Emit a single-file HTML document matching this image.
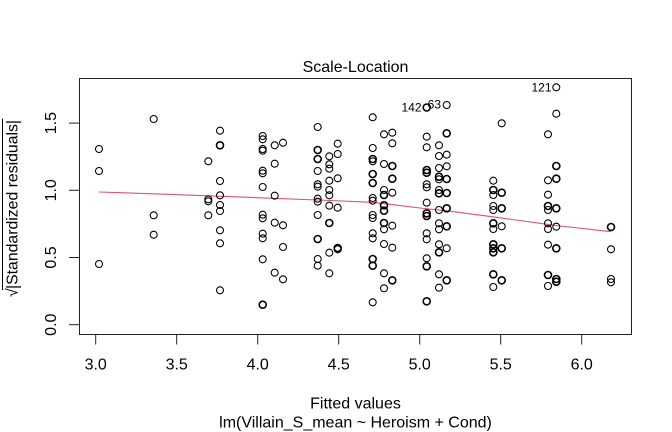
<!DOCTYPE html>
<html>
<head>
<meta charset="utf-8">
<style>
  html, body { margin: 0; padding: 0; background: #ffffff; }
  svg { display: block; }
  text { font-family: "Liberation Sans", Arial, sans-serif; fill: #000; }
  .pt { fill: none; stroke: #000; stroke-width: 1.05; }
  .b { stroke-width: 1.6; }
</style>
</head>
<body>
<svg width="672" height="432" viewBox="0 0 672 432" xmlns="http://www.w3.org/2000/svg">
  <rect x="0" y="0" width="672" height="432" fill="#ffffff"/>

  <!-- Title -->
  <text x="355.5" y="72" font-size="16" text-anchor="middle">Scale-Location</text>

  <!-- Plot box -->
  <rect x="79.5" y="78.5" width="552" height="256" fill="none" stroke="#222" stroke-width="1"/>

  <!-- X axis ticks -->
  <g stroke="#222" stroke-width="1">
    <line x1="95.7" y1="334.5" x2="95.7" y2="344.5"/>
    <line x1="176.7" y1="334.5" x2="176.7" y2="344.5"/>
    <line x1="257.7" y1="334.5" x2="257.7" y2="344.5"/>
    <line x1="338.7" y1="334.5" x2="338.7" y2="344.5"/>
    <line x1="419.7" y1="334.5" x2="419.7" y2="344.5"/>
    <line x1="500.7" y1="334.5" x2="500.7" y2="344.5"/>
    <line x1="581.7" y1="334.5" x2="581.7" y2="344.5"/>
  </g>
  <g font-size="16" text-anchor="middle">
    <text x="95.7" y="369.3">3.0</text>
    <text x="176.7" y="369.3">3.5</text>
    <text x="257.7" y="369.3">4.0</text>
    <text x="338.7" y="369.3">4.5</text>
    <text x="419.7" y="369.3">5.0</text>
    <text x="500.7" y="369.3">5.5</text>
    <text x="581.7" y="369.3">6.0</text>
  </g>

  <!-- Y axis ticks -->
  <g stroke="#222" stroke-width="1">
    <line x1="69" y1="324.7" x2="79.5" y2="324.7"/>
    <line x1="69" y1="257.5" x2="79.5" y2="257.5"/>
    <line x1="69" y1="190.3" x2="79.5" y2="190.3"/>
    <line x1="69" y1="123.1" x2="79.5" y2="123.1"/>
  </g>
  <g font-size="16" text-anchor="middle">
    <text transform="translate(56,324.7) rotate(-90)">0.0</text>
    <text transform="translate(56,257.5) rotate(-90)">0.5</text>
    <text transform="translate(56,190.3) rotate(-90)">1.0</text>
    <text transform="translate(56,123.1) rotate(-90)">1.5</text>
  </g>

  <!-- Axis labels -->
  <text x="355.5" y="408.3" font-size="16" text-anchor="middle">Fitted values</text>
  <text x="355.5" y="427.5" font-size="16" text-anchor="middle">lm(Villain_S_mean ~ Heroism + Cond)</text>

  <!-- Y label: sqrt(|Standardized residuals|) -->
  <text transform="translate(17.3,297) rotate(-90)" font-size="16">√</text>
  <text transform="translate(17.3,289) rotate(-90)" font-size="16" textLength="169" lengthAdjust="spacingAndGlyphs">|Standardized residuals|</text>
  <line x1="2.5" y1="118.5" x2="2.5" y2="290" stroke="#000" stroke-width="1"/>

  <!-- Smoother -->
  <polyline fill="none" stroke="#DF536B" stroke-width="1.1"
    points="99,192 153.7,193.8 208,195.8 260,197.8 317.7,200 372.7,202.3 392,204.6 420,208 446.7,210.8 493,216.8 548,224.4 556,225.5 611,231.7"/>

  <!-- Points -->
  <g>
    <!-- Col A x=99 -->
    <circle class="pt" cx="99" cy="149" r="3.5"/>
    <circle class="pt" cx="99" cy="171" r="3.5"/>
    <circle class="pt" cx="99" cy="264" r="3.5"/>
    <!-- Col B x=153.7 -->
    <circle class="pt" cx="153.7" cy="119" r="3.5"/>
    <circle class="pt" cx="153.7" cy="215.3" r="3.5"/>
    <circle class="pt" cx="153.7" cy="234.7" r="3.5"/>
    <!-- Col C x=208.3 -->
    <circle class="pt" cx="208.3" cy="161.3" r="3.5"/>
    <circle class="pt" cx="208.3" cy="199.3" r="3.5"/>
    <circle class="pt" cx="208.3" cy="201.3" r="3.5"/>
    <circle class="pt" cx="208.3" cy="215.3" r="3.5"/>
    <!-- Col D x=220 -->
    <circle class="pt" cx="220" cy="130.7" r="3.5"/>
    <circle class="pt b" cx="220" cy="145.3" r="3.5"/>
    <circle class="pt" cx="220" cy="181" r="3.5"/>
    <circle class="pt" cx="220" cy="195.3" r="3.5"/>
    <circle class="pt" cx="220" cy="205" r="3.5"/>
    <circle class="pt" cx="220" cy="211" r="3.5"/>
    <circle class="pt" cx="220" cy="230.3" r="3.5"/>
    <circle class="pt" cx="220" cy="243.3" r="3.5"/>
    <circle class="pt" cx="220" cy="290.3" r="3.5"/>
    <!-- Col E x=262.7 -->
    <circle class="pt" cx="262.7" cy="136" r="3.5"/>
    <circle class="pt" cx="262.7" cy="139.3" r="3.5"/>
    <circle class="pt" cx="262.7" cy="149" r="3.5"/>
    <circle class="pt" cx="262.7" cy="150.7" r="3.5"/>
    <circle class="pt" cx="262.7" cy="170.7" r="3.5"/>
    <circle class="pt" cx="262.7" cy="173.3" r="3.5"/>
    <circle class="pt" cx="262.7" cy="187" r="3.5"/>
    <circle class="pt" cx="262.7" cy="214.7" r="3.5"/>
    <circle class="pt" cx="262.7" cy="218.3" r="3.5"/>
    <circle class="pt" cx="262.7" cy="233.7" r="3.5"/>
    <circle class="pt" cx="262.7" cy="238.3" r="3.5"/>
    <circle class="pt" cx="262.7" cy="259.3" r="3.5"/>
    <circle class="pt b" cx="262.7" cy="304.7" r="3.5"/>
    <!-- Col F x=274.7 -->
    <circle class="pt" cx="274.7" cy="145.3" r="3.5"/>
    <circle class="pt" cx="274.7" cy="163.7" r="3.5"/>
    <circle class="pt" cx="274.7" cy="195.7" r="3.5"/>
    <circle class="pt" cx="274.7" cy="222.7" r="3.5"/>
    <circle class="pt" cx="274.7" cy="272.7" r="3.5"/>
    <!-- Col G x=283 -->
    <circle class="pt" cx="283" cy="142.7" r="3.5"/>
    <circle class="pt" cx="283" cy="225.3" r="3.5"/>
    <circle class="pt" cx="283" cy="247" r="3.5"/>
    <circle class="pt" cx="283" cy="279.3" r="3.5"/>
    <!-- Col H x=317.7 -->
    <circle class="pt" cx="317.7" cy="127" r="3.5"/>
    <circle class="pt b" cx="317.7" cy="150" r="3.5"/>
    <circle class="pt b" cx="317.7" cy="159" r="3.5"/>
    <circle class="pt" cx="317.7" cy="171" r="3.5"/>
    <circle class="pt" cx="317.7" cy="184.3" r="3.5"/>
    <circle class="pt" cx="317.7" cy="186.7" r="3.5"/>
    <circle class="pt" cx="317.7" cy="198.7" r="3.5"/>
    <circle class="pt" cx="317.7" cy="201.7" r="3.5"/>
    <circle class="pt" cx="317.7" cy="215" r="3.5"/>
    <circle class="pt b" cx="317.7" cy="239" r="3.5"/>
    <circle class="pt" cx="317.7" cy="259" r="3.5"/>
    <circle class="pt" cx="317.7" cy="265.7" r="3.5"/>
    <!-- Col I x=329.3 -->
    <circle class="pt" cx="329.3" cy="156.3" r="3.5"/>
    <circle class="pt" cx="329.3" cy="164.3" r="3.5"/>
    <circle class="pt" cx="329.3" cy="168.7" r="3.5"/>
    <circle class="pt" cx="329.3" cy="180.7" r="3.5"/>
    <circle class="pt" cx="329.3" cy="190" r="3.5"/>
    <circle class="pt" cx="329.3" cy="195.3" r="3.5"/>
    <circle class="pt" cx="329.3" cy="205.7" r="3.5"/>
    <circle class="pt b" cx="329.3" cy="223" r="3.5"/>
    <circle class="pt" cx="329.3" cy="252.7" r="3.5"/>
    <circle class="pt" cx="329.3" cy="273.3" r="3.5"/>
    <!-- Col J x=337.7 -->
    <circle class="pt" cx="337.7" cy="143.7" r="3.5"/>
    <circle class="pt" cx="337.7" cy="154" r="3.5"/>
    <circle class="pt" cx="337.7" cy="178.3" r="3.5"/>
    <circle class="pt" cx="337.7" cy="207.7" r="3.5"/>
    <circle class="pt b" cx="337.7" cy="248" r="3.5"/>
    <circle class="pt" cx="337.7" cy="249.3" r="3.5"/>
    <!-- Col K x=372.7 -->
    <circle class="pt" cx="372.7" cy="117.3" r="3.5"/>
    <circle class="pt" cx="372.7" cy="148" r="3.5"/>
    <circle class="pt b" cx="372.7" cy="159" r="3.5"/>
    <circle class="pt" cx="372.7" cy="161.3" r="3.5"/>
    <circle class="pt b" cx="372.7" cy="174" r="3.5"/>
    <circle class="pt b" cx="372.7" cy="183" r="3.5"/>
    <circle class="pt" cx="372.7" cy="198" r="3.5"/>
    <circle class="pt" cx="372.7" cy="200.7" r="3.5"/>
    <circle class="pt" cx="372.7" cy="215" r="3.5"/>
    <circle class="pt" cx="372.7" cy="218" r="3.5"/>
    <circle class="pt" cx="372.7" cy="233.3" r="3.5"/>
    <circle class="pt" cx="372.7" cy="238.3" r="3.5"/>
    <circle class="pt b" cx="372.7" cy="259" r="3.5"/>
    <circle class="pt b" cx="372.7" cy="265.7" r="3.5"/>
    <circle class="pt" cx="372.7" cy="302.3" r="3.5"/>
    <!-- Col L x=384 -->
    <circle class="pt" cx="384" cy="134.3" r="3.5"/>
    <circle class="pt" cx="384" cy="164" r="3.5"/>
    <circle class="pt" cx="384" cy="190" r="3.5"/>
    <circle class="pt b" cx="384" cy="195" r="3.5"/>
    <circle class="pt b" cx="384" cy="205.3" r="3.5"/>
    <circle class="pt b" cx="384" cy="210.7" r="3.5"/>
    <circle class="pt b" cx="384" cy="223" r="3.5"/>
    <circle class="pt" cx="384" cy="229.3" r="3.5"/>
    <circle class="pt" cx="384" cy="244" r="3.5"/>
    <circle class="pt" cx="384" cy="273.3" r="3.5"/>
    <circle class="pt" cx="384" cy="288.3" r="3.5"/>
    <!-- Col M x=392.3 -->
    <circle class="pt" cx="392.3" cy="132.7" r="3.5"/>
    <circle class="pt" cx="392.3" cy="143.3" r="3.5"/>
    <circle class="pt b" cx="392.3" cy="166" r="3.5"/>
    <circle class="pt b" cx="392.3" cy="178.7" r="3.5"/>
    <circle class="pt" cx="392.3" cy="192.7" r="3.5"/>
    <circle class="pt" cx="392.3" cy="225.7" r="3.5"/>
    <circle class="pt" cx="392.3" cy="247.7" r="3.5"/>
    <circle class="pt b" cx="392.3" cy="280.3" r="3.5"/>
    <!-- Col N x=426.7 -->
    <circle class="pt b" cx="426.7" cy="107.5" r="3.5"/>
    <circle class="pt" cx="426.7" cy="136.7" r="3.5"/>
    <circle class="pt" cx="426.7" cy="147.3" r="3.5"/>
    <circle class="pt b" cx="426.7" cy="170" r="3.5"/>
    <circle class="pt b" cx="426.7" cy="172.7" r="3.5"/>
    <circle class="pt" cx="426.7" cy="184.3" r="3.5"/>
    <circle class="pt" cx="426.7" cy="187.3" r="3.5"/>
    <circle class="pt" cx="426.7" cy="202.7" r="3.5"/>
    <circle class="pt b" cx="426.7" cy="213.3" r="3.5"/>
    <circle class="pt b" cx="426.7" cy="216" r="3.5"/>
    <circle class="pt" cx="426.7" cy="233.3" r="3.5"/>
    <circle class="pt" cx="426.7" cy="239.3" r="3.5"/>
    <circle class="pt" cx="426.7" cy="258.3" r="3.5"/>
    <circle class="pt b" cx="426.7" cy="266.3" r="3.5"/>
    <circle class="pt b" cx="426.7" cy="301.3" r="3.5"/>
    <!-- Col O x=439 -->
    <circle class="pt" cx="439" cy="145.3" r="3.5"/>
    <circle class="pt" cx="439" cy="156" r="3.5"/>
    <circle class="pt" cx="439" cy="168" r="3.5"/>
    <circle class="pt b" cx="439" cy="176.7" r="3.5"/>
    <circle class="pt" cx="439" cy="179.3" r="3.5"/>
    <circle class="pt" cx="439" cy="190" r="3.5"/>
    <circle class="pt b" cx="439" cy="193.3" r="3.5"/>
    <circle class="pt" cx="439" cy="210" r="3.5"/>
    <circle class="pt" cx="439" cy="223.3" r="3.5"/>
    <circle class="pt" cx="439" cy="229.3" r="3.5"/>
    <circle class="pt" cx="439" cy="244.3" r="3.5"/>
    <circle class="pt b" cx="439" cy="252.3" r="3.5"/>
    <circle class="pt" cx="439" cy="274.3" r="3.5"/>
    <circle class="pt" cx="439" cy="287.7" r="3.5"/>
    <!-- Col P x=446.7 -->
    <circle class="pt" cx="446.7" cy="105" r="3.5"/>
    <circle class="pt b" cx="446.7" cy="133.3" r="3.5"/>
    <circle class="pt" cx="446.7" cy="154.7" r="3.5"/>
    <circle class="pt" cx="446.7" cy="166.3" r="3.5"/>
    <circle class="pt b" cx="446.7" cy="179" r="3.5"/>
    <circle class="pt b" cx="446.7" cy="193" r="3.5"/>
    <circle class="pt b" cx="446.7" cy="208.3" r="3.5"/>
    <circle class="pt b" cx="446.7" cy="226.3" r="3.5"/>
    <circle class="pt" cx="446.7" cy="248.3" r="3.5"/>
    <circle class="pt b" cx="446.7" cy="280.3" r="3.5"/>
    <!-- Col Q x=493.3 -->
    <circle class="pt" cx="493.3" cy="180.7" r="3.5"/>
    <circle class="pt b" cx="493.3" cy="190" r="3.5"/>
    <circle class="pt" cx="493.3" cy="195" r="3.5"/>
    <circle class="pt" cx="493.3" cy="206" r="3.5"/>
    <circle class="pt" cx="493.3" cy="210" r="3.5"/>
    <circle class="pt b" cx="493.3" cy="223.3" r="3.5"/>
    <circle class="pt" cx="493.3" cy="229" r="3.5"/>
    <circle class="pt b" cx="493.3" cy="244.3" r="3.5"/>
    <circle class="pt b" cx="493.3" cy="248.3" r="3.5"/>
    <circle class="pt b" cx="493.3" cy="252.3" r="3.5"/>
    <circle class="pt b" cx="493.3" cy="274.3" r="3.5"/>
    <circle class="pt" cx="493.3" cy="287" r="3.5"/>
    <!-- Col R x=501.7 -->
    <circle class="pt" cx="501.7" cy="123.3" r="3.5"/>
    <circle class="pt b" cx="501.7" cy="192.7" r="3.5"/>
    <circle class="pt b" cx="501.7" cy="208.3" r="3.5"/>
    <circle class="pt" cx="501.7" cy="226.3" r="3.5"/>
    <circle class="pt b" cx="501.7" cy="248.3" r="3.5"/>
    <circle class="pt b" cx="501.7" cy="280.3" r="3.5"/>
    <!-- Col S x=548 -->
    <circle class="pt" cx="548" cy="134.3" r="3.5"/>
    <circle class="pt" cx="548" cy="180.3" r="3.5"/>
    <circle class="pt" cx="548" cy="194.7" r="3.5"/>
    <circle class="pt b" cx="548" cy="206" r="3.5"/>
    <circle class="pt" cx="548" cy="210" r="3.5"/>
    <circle class="pt" cx="548" cy="223.3" r="3.5"/>
    <circle class="pt" cx="548" cy="229" r="3.5"/>
    <circle class="pt" cx="548" cy="244.7" r="3.5"/>
    <circle class="pt b" cx="548" cy="275" r="3.5"/>
    <circle class="pt" cx="548" cy="286" r="3.5"/>
    <!-- Col T x=556.3 -->
    <circle class="pt" cx="556.3" cy="87.3" r="3.5"/>
    <circle class="pt" cx="556.3" cy="113.7" r="3.5"/>
    <circle class="pt b" cx="556.3" cy="166" r="3.5"/>
    <circle class="pt b" cx="556.3" cy="178.7" r="3.5"/>
    <circle class="pt b" cx="556.3" cy="208.3" r="3.5"/>
    <circle class="pt" cx="556.3" cy="226.7" r="3.5"/>
    <circle class="pt b" cx="556.3" cy="248.3" r="3.5"/>
    <circle class="pt b" cx="556.3" cy="279" r="3.5"/>
    <circle class="pt b" cx="556.3" cy="281.7" r="3.5"/>
    <!-- Col U x=611 -->
    <circle class="pt b" cx="611" cy="227" r="3.5"/>
    <circle class="pt" cx="611" cy="249.3" r="3.5"/>
    <circle class="pt" cx="611" cy="279" r="3.5"/>
    <circle class="pt" cx="611" cy="282.3" r="3.5"/>
  </g>

  <!-- Point labels -->
  <g font-size="12" text-anchor="end">
    <text x="421.5" y="111.7">142</text>
    <text x="441" y="108.7">63</text>
    <text x="551.5" y="91.5">121</text>
  </g>
</svg>
</body>
</html>
